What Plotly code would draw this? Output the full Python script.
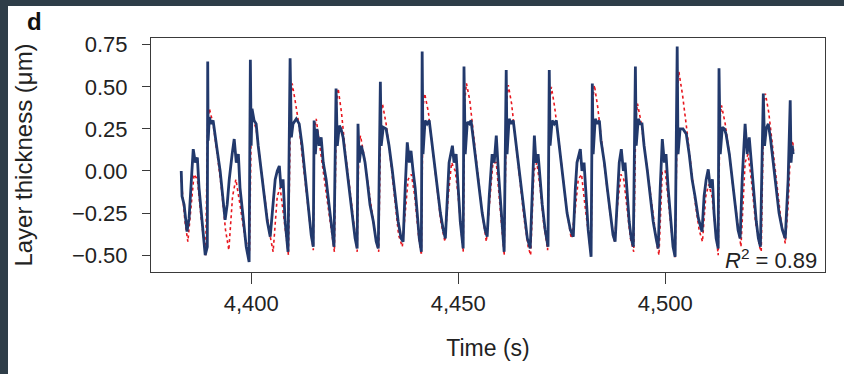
import plotly.graph_objects as go

# Measured layer thickness (blue)
t_meas = [4383.1, 4383.3, 4383.8, 4384.5, 4385.0, 4385.5, 4386.0, 4386.5, 4387.0, 4387.4, 4388.2, 4388.9,
          4389.4, 4389.5, 4389.6, 4389.9, 4390.3, 4390.8, 4391.3, 4391.8, 4392.5, 4393.2, 4393.7, 4394.2,
          4394.7, 4395.4, 4395.9, 4396.4, 4396.9, 4397.3, 4398.1, 4398.8, 4399.5, 4399.8, 4400.0, 4400.2,
          4400.7, 4401.2, 4401.7, 4402.4, 4403.1, 4403.9, 4404.6, 4405.3, 4405.8, 4406.3, 4406.8, 4407.2,
          4407.7, 4408.2, 4408.9, 4409.4, 4409.7, 4410.1, 4410.9, 4411.6, 4412.3, 4413.0, 4413.8, 4414.5,
          4415.0, 4415.2, 4415.5, 4415.9, 4416.4, 4416.9, 4417.4, 4418.1, 4418.8, 4419.6, 4420.0, 4420.5,
          4420.8, 4421.3, 4421.7, 4422.2, 4422.9, 4423.7, 4424.4, 4425.1, 4425.6, 4425.8, 4426.1, 4426.6,
          4427.1, 4427.5, 4428.0, 4428.7, 4429.5, 4430.2, 4430.7, 4431.2, 4431.4, 4431.9, 4432.6, 4433.3,
          4434.1, 4434.8, 4435.5, 4436.2, 4436.7, 4437.2, 4437.7, 4438.2, 4438.6, 4439.1, 4439.6, 4440.1,
          4440.6, 4441.1, 4441.3, 4441.5, 4442.0, 4442.5, 4443.0, 4443.5, 4444.2, 4444.9, 4445.7, 4446.4,
          4446.9, 4447.3, 4447.8, 4448.6, 4449.0, 4449.5, 4450.0, 4450.5, 4451.2, 4451.4, 4451.7, 4452.2,
          4452.7, 4453.1, 4453.6, 4454.3, 4455.1, 4455.8, 4456.5, 4457.0, 4457.5, 4458.2, 4458.7, 4459.2,
          4459.7, 4460.1, 4460.6, 4461.1, 4461.6, 4461.8, 4462.3, 4462.8, 4463.3, 4463.8, 4464.5, 4465.2,
          4465.9, 4466.7, 4467.4, 4467.9, 4468.4, 4468.8, 4469.3, 4469.8, 4470.3, 4471.0, 4471.7, 4472.0,
          4472.2, 4472.7, 4473.2, 4473.7, 4474.2, 4474.9, 4475.6, 4476.3, 4477.1, 4477.8, 4478.3, 4478.7,
          4479.5, 4479.9, 4480.4, 4480.9, 4481.4, 4482.1, 4482.4, 4482.6, 4483.1, 4483.6, 4484.1, 4484.5,
          4485.3, 4486.0, 4486.7, 4487.4, 4487.9, 4488.4, 4488.9, 4489.4, 4489.9, 4490.3, 4490.8, 4491.3,
          4491.8, 4492.3, 4492.8, 4493.0, 4493.5, 4494.0, 4494.4, 4494.9, 4495.7, 4496.4, 4497.1, 4497.8,
          4498.3, 4498.8, 4499.3, 4499.8, 4500.2, 4500.7, 4501.2, 4501.9, 4502.4, 4502.9, 4503.1, 4503.6,
          4504.3, 4505.1, 4505.8, 4506.5, 4507.2, 4508.0, 4508.9, 4509.4, 4509.9, 4510.4, 4510.9, 4511.4,
          4511.8, 4512.3, 4512.8, 4513.0, 4513.3, 4513.8, 4514.3, 4514.7, 4515.5, 4516.2, 4516.9, 4517.6,
          4518.1, 4518.6, 4519.3, 4519.8, 4520.3, 4520.8, 4521.3, 4522.0, 4522.5, 4523.0, 4523.7, 4524.0,
          4524.4, 4524.9, 4525.4, 4526.1, 4526.8, 4527.5, 4528.3, 4529.0, 4529.7, 4530.2, 4530.4, 4530.7,
          4530.9]
v_meas = [0.00, -0.15, -0.20, -0.36, -0.28, -0.05, 0.13, 0.05, 0.08, -0.10, -0.30, -0.50,
          -0.45, 0.65, 0.18, 0.32, 0.28, 0.30, 0.20, 0.12, 0.00, -0.15, -0.29, -0.20,
          -0.05, 0.10, 0.19, 0.05, 0.10, -0.10, -0.30, -0.45, -0.54, 0.66, 0.15, 0.37,
          0.30, 0.28, 0.15, 0.00, -0.15, -0.30, -0.39, -0.20, -0.05, 0.00, 0.03, -0.10,
          -0.05, -0.30, -0.48, 0.67, 0.20, 0.28, 0.31, 0.28, 0.15, -0.02, -0.20, -0.38,
          -0.45, 0.30, 0.10, 0.25, 0.15, 0.20, 0.05, -0.05, -0.20, -0.38, -0.45, 0.49,
          0.15, 0.27, 0.25, 0.20, 0.05, -0.10, -0.25, -0.40, -0.46, 0.28, 0.05, 0.15,
          0.10, 0.05, -0.05, -0.20, -0.30, -0.42, -0.46, 0.53, 0.15, 0.26, 0.25, 0.15,
          0.00, -0.15, -0.30, -0.40, -0.42, -0.10, 0.17, 0.05, 0.12, 0.00, -0.10, -0.25,
          -0.40, -0.48, 0.71, 0.10, 0.30, 0.28, 0.30, 0.20, 0.05, -0.10, -0.25, -0.35,
          -0.40, -0.20, 0.05, 0.15, 0.05, 0.10, -0.10, -0.30, -0.46, 0.62, 0.10, 0.29,
          0.28, 0.30, 0.20, 0.05, -0.10, -0.25, -0.35, -0.39, -0.15, 0.10, 0.05, 0.21,
          0.00, -0.15, -0.35, -0.48, 0.60, 0.10, 0.31, 0.28, 0.30, 0.20, 0.05, -0.10,
          -0.25, -0.40, -0.46, -0.10, 0.21, 0.05, 0.10, -0.05, -0.20, -0.35, -0.45, 0.60,
          0.15, 0.30, 0.28, 0.30, 0.20, 0.05, -0.10, -0.25, -0.35, -0.39, -0.10, 0.05,
          0.13, 0.00, 0.05, -0.15, -0.35, -0.51, 0.52, 0.10, 0.31, 0.28, 0.30, 0.18,
          0.05, -0.10, -0.25, -0.38, -0.42, -0.15, 0.05, 0.13, 0.00, 0.05, -0.15, -0.30,
          -0.40, -0.45, 0.62, 0.15, 0.31, 0.28, 0.28, 0.15, 0.00, -0.15, -0.30, -0.40,
          -0.46, -0.10, 0.19, 0.05, 0.10, -0.10, -0.25, -0.45, -0.51, 0.74, 0.10, 0.25,
          0.25, 0.22, 0.10, -0.05, -0.15, -0.28, -0.36, -0.15, -0.05, 0.01, -0.10, -0.05,
          -0.25, -0.40, -0.46, 0.61, 0.10, 0.26, 0.25, 0.22, 0.10, -0.05, -0.20, -0.35,
          -0.40, -0.05, 0.28, 0.10, 0.20, 0.05, -0.10, -0.30, -0.40, -0.45, 0.46, 0.15,
          0.25, 0.28, 0.20, 0.05, -0.10, -0.25, -0.35, -0.40, -0.05, 0.42, 0.05, 0.15,
          0.10]

# Model prediction (red dotted)
t_model = [4383.1, 4384.0, 4384.7, 4385.5, 4386.2, 4387.0, 4388.0, 4389.0, 4389.5, 4389.9, 4390.8, 4391.8,
           4392.8, 4393.8, 4394.6, 4395.5, 4396.3, 4397.3, 4398.5, 4399.6, 4400.0, 4400.4, 4401.2, 4402.2,
           4403.2, 4404.3, 4405.3, 4406.3, 4407.0, 4408.0, 4409.0, 4409.5, 4409.9, 4410.6, 4411.5, 4412.5,
           4413.5, 4414.5, 4415.0, 4415.3, 4415.7, 4416.5, 4417.5, 4418.5, 4419.5, 4420.1, 4420.6, 4421.0,
           4421.8, 4422.8, 4423.8, 4424.8, 4425.6, 4426.0, 4426.4, 4427.2, 4428.2, 4429.2, 4430.2, 4430.8,
           4431.3, 4431.7, 4432.6, 4433.6, 4434.6, 4435.6, 4436.5, 4437.3, 4437.9, 4438.7, 4439.5, 4440.4,
           4441.1, 4441.5, 4441.9, 4442.8, 4443.8, 4444.8, 4445.8, 4446.8, 4447.6, 4448.4, 4449.3, 4450.0,
           4450.7, 4451.2, 4451.6, 4452.0, 4452.8, 4453.8, 4454.8, 4455.8, 4456.8, 4457.6, 4458.4, 4459.2,
           4459.9, 4460.5, 4461.1, 4461.7, 4462.1, 4462.9, 4463.9, 4464.9, 4465.9, 4466.9, 4467.5, 4468.3,
           4469.0, 4469.8, 4470.6, 4471.6, 4472.1, 4472.5, 4473.3, 4474.3, 4475.3, 4476.3, 4477.3, 4478.2,
           4479.0, 4479.8, 4480.6, 4481.4, 4482.1, 4482.5, 4482.9, 4483.7, 4484.7, 4485.7, 4486.7, 4487.7,
           4488.5, 4489.3, 4490.0, 4490.8, 4491.6, 4492.4, 4492.9, 4493.3, 4494.1, 4495.1, 4496.1, 4497.1,
           4498.1, 4498.5, 4499.3, 4500.0, 4500.8, 4501.7, 4502.4, 4503.0, 4503.3, 4504.2, 4505.2, 4506.2,
           4507.2, 4508.2, 4509.0, 4509.8, 4510.5, 4511.3, 4512.2, 4512.8, 4513.2, 4513.6, 4514.5, 4515.5,
           4516.5, 4517.5, 4518.3, 4519.3, 4520.0, 4520.8, 4521.8, 4522.8, 4523.2, 4523.8, 4524.2, 4525.0,
           4526.0, 4527.0, 4528.0, 4529.0, 4529.7, 4530.3, 4530.8, 4531.0]
v_model = [-0.05, -0.30, -0.42, -0.20, -0.02, -0.05, -0.30, -0.50, 0.30, 0.37, 0.28, 0.10,
           -0.10, -0.35, -0.47, -0.15, -0.05, -0.20, -0.40, -0.48, 0.25, 0.31, 0.25, 0.05,
           -0.15, -0.35, -0.48, -0.15, -0.10, -0.30, -0.50, 0.40, 0.52, 0.42, 0.28, 0.05,
           -0.18, -0.38, -0.47, 0.25, 0.31, 0.15, -0.02, -0.20, -0.38, -0.48, 0.40, 0.49,
           0.35, 0.10, -0.10, -0.32, -0.48, 0.15, 0.21, 0.10, -0.08, -0.25, -0.42, -0.48,
           0.32, 0.40, 0.28, 0.08, -0.15, -0.38, -0.45, -0.20, -0.05, -0.02, -0.15, -0.38,
           -0.50, 0.38, 0.46, 0.35, 0.15, -0.08, -0.30, -0.42, -0.15, 0.05, 0.00, -0.15,
           -0.35, -0.48, 0.42, 0.52, 0.42, 0.20, -0.02, -0.25, -0.42, -0.20, 0.05, 0.05,
           -0.15, -0.35, -0.50, 0.42, 0.51, 0.40, 0.18, -0.05, -0.28, -0.45, -0.50, 0.00,
           0.05, -0.10, -0.30, -0.47, 0.40, 0.50, 0.38, 0.18, -0.05, -0.25, -0.40, -0.25,
           -0.05, -0.02, -0.20, -0.38, -0.50, 0.42, 0.51, 0.38, 0.15, -0.05, -0.25, -0.42,
           -0.20, -0.02, -0.05, -0.22, -0.40, -0.48, 0.30, 0.40, 0.30, 0.12, -0.08, -0.28,
           -0.45, -0.50, 0.00, 0.00, -0.20, -0.40, -0.52, 0.50, 0.59, 0.45, 0.25, 0.02,
           -0.18, -0.35, -0.42, -0.15, -0.08, -0.15, -0.38, -0.50, 0.30, 0.39, 0.28, 0.10,
           -0.12, -0.32, -0.45, 0.05, 0.10, -0.05, -0.30, -0.45, -0.48, 0.40, 0.46, 0.35,
           0.12, -0.10, -0.30, -0.43, -0.20, 0.15, 0.18, 0.12]

x_ticks = [4400, 4450, 4500]
y_ticks = [-0.50, -0.25, 0.00, 0.25, 0.50, 0.75]
r2_text = "<i>R</i><sup>2</sup> = 0.89"
panel_label = "d"

FONT = "Liberation Sans, Arial, Helvetica, sans-serif"
BLUE = "#22396c"
RED = "#e8161e"

fig = go.Figure()
fig.add_trace(go.Scatter(x=t_model, y=v_model, mode="lines",
                         line=dict(color=RED, width=1.6, dash="dot"), name="Model"))
fig.add_trace(go.Scatter(x=t_meas, y=v_meas, mode="lines",
                         line=dict(color=BLUE, width=2.8), name="Measured"))

W, H = 844, 374
ml, mr, mt, mb = 151, 19, 38, 102
pw, ph = W - ml - mr, H - mt - mb


def px_x(p):
    return (p - ml) / pw


def px_y(p):
    return (H - mb - p) / ph


fig.update_layout(
    width=W, height=H, autosize=False,
    margin=dict(l=ml, r=mr, t=mt, b=mb, pad=0),
    paper_bgcolor="white", plot_bgcolor="white",
    showlegend=False,
    font=dict(family=FONT, size=22, color="#222222"),
    xaxis=dict(range=[4375.8, 4538.6], tickvals=x_ticks, tickformat=",d",
               showline=True, mirror=True, linecolor="#3a3a3a", linewidth=1,
               ticks="outside", ticklen=11, tickcolor="#3a3a3a", tickwidth=1,
               ticklabelstandoff=1,
               showgrid=False, zeroline=False, tickfont=dict(size=22),
               title=dict(text="Time (s)", font=dict(size=23), standoff=24)),
    yaxis=dict(range=[-0.60, 0.79], tickvals=y_ticks, tickformat=".2f",
               showline=True, mirror=True, linecolor="#3a3a3a", linewidth=1,
               ticks="outside", ticklen=8, tickcolor="#3a3a3a", tickwidth=1,
               ticklabelstandoff=10,
               showgrid=False, zeroline=False, tickfont=dict(size=22),
               title=dict(text="Layer thickness (μm)", font=dict(size=24), standoff=32)),
    annotations=[
        dict(text=r2_text, x=px_x(819), y=px_y(259), xref="paper", yref="paper",
             xanchor="right", yanchor="middle", showarrow=False,
             font=dict(size=22, color="#222222")),
        dict(text="<b>%s</b>" % panel_label, x=px_x(25), y=px_y(21), xref="paper", yref="paper",
             xanchor="left", yanchor="middle", showarrow=False,
             font=dict(size=24, color="#111111")),
    ],
    shapes=[
        dict(type="rect", xref="paper", yref="paper", x0=px_x(0), x1=px_x(8),
             y0=px_y(H), y1=px_y(0), fillcolor="#2e3d48", line=dict(width=0), layer="above"),
        dict(type="rect", xref="paper", yref="paper", x0=px_x(0), x1=px_x(W),
             y0=px_y(6), y1=px_y(0), fillcolor="#2e3d48", line=dict(width=0), layer="above"),
    ],
)

fig.write_html("out.html")
